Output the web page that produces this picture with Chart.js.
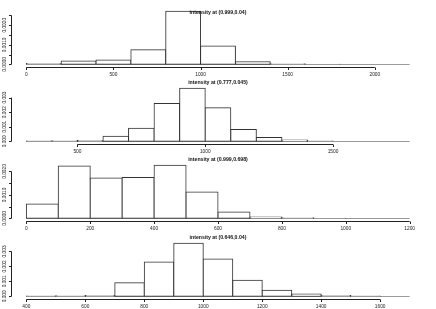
<!DOCTYPE html>
<html>
<head>
<meta charset="utf-8">
<script src="https://cdn.jsdelivr.net/npm/chart.js@4.4.1/dist/chart.umd.min.js"></script>
<style>
  html, body { margin: 0; padding: 0; background: #fff; }
  #wrap { position: relative; width: 436px; height: 309px; overflow: hidden; }
  .panel { position: absolute; left: 0; width: 436px; height: 77px; }
</style>
</head>
<body>
<div id="wrap">
  <div class="panel" style="top:0px"><canvas id="h1" width="436" height="77"></canvas></div>
  <div class="panel" style="top:77px"><canvas id="h2" width="436" height="77"></canvas></div>
  <div class="panel" style="top:154px"><canvas id="h3" width="436" height="77"></canvas></div>
  <div class="panel" style="top:232px"><canvas id="h4" width="436" height="77"></canvas></div>
</div>
<script>
// titles of the four histograms
const titles = [
  "intensity at (0.999,0.04)",
  "intensity at (0.777,0.045)",
  "intensity at (0.999,0.698)",
  "intensity at (0.646,0.04)"
];

// panel 1
const breaks1 = [0, 200, 400, 600, 800, 1000, 1200, 1400, 1600, 1800, 2000, 2200];
const density1 = [0.00004, 0.00017, 0.00022, 0.00075, 0.00272, 0.00094, 0.00014, 0.00003, 0.00001, 0, 0];
const xTicks1 = [0, 500, 1000, 1500, 2000];
const yTicks1 = [0, 0.0005, 0.001, 0.0015, 0.002, 0.0025];
const yLabels1 = ["0.0000", "", "0.0010", "", "0.0020", ""];

// panel 2
const breaks2 = [300, 400, 500, 600, 700, 800, 900, 1000, 1100, 1200, 1300, 1400, 1500, 1600, 1700, 1800];
const density2 = [0.00002, 0.00004, 0.00006, 0.00035, 0.0009, 0.0026, 0.00365, 0.0023, 0.00082, 0.00027, 0.0001, 0.00003, 0, 0, 0];
const xTicks2 = [500, 1000, 1500];
const yTicks2 = [0, 0.001, 0.002, 0.003];
const yLabels2 = ["0.000", "0.001", "0.002", "0.003"];

// panel 3
const breaks3 = [0, 100, 200, 300, 400, 500, 600, 700, 800, 900, 1000, 1100, 1200];
const density3 = [0.00061, 0.00223, 0.00172, 0.00174, 0.00227, 0.00112, 0.00027, 0.00006, 0.00003, 0.00001, 0, 0];
const xTicks3 = [0, 200, 400, 600, 800, 1000, 1200];
const yTicks3 = [0, 0.0005, 0.001, 0.0015, 0.002];
const yLabels3 = ["0.0000", "", "0.0010", "", "0.0020"];

// panel 4
const breaks4 = [400, 500, 600, 700, 800, 900, 1000, 1100, 1200, 1300, 1400, 1500, 1600, 1700];
const density4 = [0.00002, 0.00004, 0.00006, 0.0009, 0.0023, 0.00355, 0.0025, 0.00107, 0.0004, 0.00016, 0.00005, 0.00002, 0];
const xTicks4 = [400, 600, 800, 1000, 1200, 1400, 1600];
const yTicks4 = [0, 0.001, 0.002, 0.003];
const yLabels4 = ["0.000", "0.001", "0.002", "0.003"];

const FONT = '"Liberation Sans", Arial, sans-serif';
const INK = "#222";

// R-like axes + title drawn from the chart's own scales
const rAxes = {
  id: "rAxes",
  afterDatasetsDraw(chart, args, opts) {
    // baseline at 0, darkened onto whatever is already there
    const { ctx } = chart;
    const xs = chart.scales.x, ys = chart.scales.y;
    const y0 = Math.round(ys.getPixelForValue(0)) + 0.5;
    ctx.save();
    ctx.globalCompositeOperation = "darken";
    ctx.strokeStyle = "#9a9a9a";
    ctx.lineWidth = 1;
    ctx.beginPath();
    ctx.moveTo(xs.getPixelForValue(opts.first), y0);
    ctx.lineTo(xs.getPixelForValue(opts.last), y0);
    ctx.stroke();
    ctx.restore();
  },
  afterDraw(chart, args, opts) {
    const { ctx, chartArea } = chart;
    const xs = chart.scales.x, ys = chart.scales.y;
    ctx.save();
    ctx.strokeStyle = INK;
    ctx.fillStyle = INK;
    ctx.lineWidth = 1;

    // x axis
    const ya = Math.round(chartArea.bottom) + 0.5;
    ctx.beginPath();
    ctx.moveTo(xs.getPixelForValue(opts.xTicks[0]), ya);
    ctx.lineTo(xs.getPixelForValue(opts.xTicks[opts.xTicks.length - 1]), ya);
    opts.xTicks.forEach(v => {
      const px = Math.round(xs.getPixelForValue(v)) + 0.5;
      ctx.moveTo(px, ya);
      ctx.lineTo(px, ya + 2.5);
    });
    ctx.stroke();
    ctx.font = "4.8px " + FONT;
    ctx.textAlign = "center";
    ctx.textBaseline = "middle";
    opts.xTicks.forEach(v => ctx.fillText(String(v), xs.getPixelForValue(v), ya + 7));

    // y axis
    const xa = Math.round(chartArea.left) + 0.5;
    ctx.beginPath();
    ctx.moveTo(xa, ys.getPixelForValue(opts.yTicks[0]));
    ctx.lineTo(xa, ys.getPixelForValue(opts.yTicks[opts.yTicks.length - 1]));
    opts.yTicks.forEach(v => {
      const py = Math.round(ys.getPixelForValue(v)) + 0.5;
      ctx.moveTo(xa, py);
      ctx.lineTo(xa - 2.5, py);
    });
    ctx.stroke();
    opts.yTicks.forEach((v, i) => {
      if (!opts.yLabels[i]) return;
      ctx.save();
      ctx.translate(xa - 7, ys.getPixelForValue(v));
      ctx.rotate(-Math.PI / 2);
      ctx.fillText(opts.yLabels[i], 0, 0);
      ctx.restore();
    });

    // title
    ctx.font = "bold 5.2px " + FONT;
    ctx.fillStyle = "#111";
    ctx.fillText(opts.title, (chartArea.left + chartArea.right) / 2, opts.titleY);
    ctx.restore();
  }
};

function makeHist(id, title, titleY, breaks, density, xTicks, yTicks, yLabels) {
  const first = breaks[0], last = breaks[breaks.length - 1];
  const span = last - first;
  const top = Math.max(...density);
  const points = density.map((d, i) => ({ x: (breaks[i] + breaks[i + 1]) / 2, y: d }));
  return new Chart(document.getElementById(id), {
    type: "bar",
    data: {
      datasets: [{
        data: points,
        backgroundColor: "#fff",
        borderColor: "#333",
        borderWidth: 1,
        borderSkipped: false,
        inflateAmount: 0.5,
        barPercentage: 1,
        categoryPercentage: 1,
        grouped: false
      }]
    },
    options: {
      responsive: false,
      animation: false,
      devicePixelRatio: 1,
      layout: { padding: { left: 11, right: 11, top: 9, bottom: 10.5 } },
      plugins: {
        legend: { display: false },
        tooltip: { enabled: false },
        title: { display: false },
        rAxes: { title, titleY, first, last, xTicks, yTicks, yLabels }
      },
      scales: {
        x: { type: "linear", display: false, offset: false, min: first - 0.04 * span, max: last + 0.04 * span },
        y: { display: false, min: -0.04 * top, max: 1.04 * top }
      }
    },
    plugins: [rAxes]
  });
}

makeHist("h1", titles[0], 13, breaks1, density1, xTicks1, yTicks1, yLabels1);
makeHist("h2", titles[1], 6, breaks2, density2, xTicks2, yTicks2, yLabels2);
makeHist("h3", titles[2], 6, breaks3, density3, xTicks3, yTicks3, yLabels3);
makeHist("h4", titles[3], 6, breaks4, density4, xTicks4, yTicks4, yLabels4);
</script>
</body>
</html>
